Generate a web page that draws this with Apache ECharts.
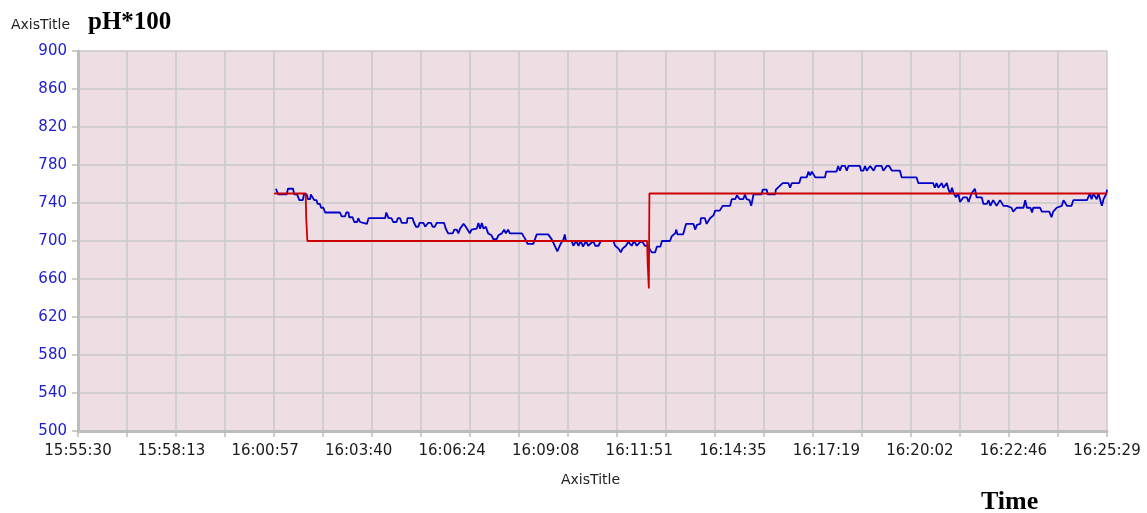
<!DOCTYPE html>
<html>
<head>
<meta charset="utf-8">
<script src="https://cdn.jsdelivr.net/npm/echarts@6/dist/echarts.min.js"></script>
<style>
html,body{margin:0;padding:0;background:#fff;}
#chart{width:1147px;height:513px;}
</style>
</head>
<body>
<div id="chart"></div>
<script>
// Time axis: seconds after 15:55:30, full span 1799 s (to 16:25:29)
var spanSec = 1799;
var timeLabels = ['15:55:30','15:58:13','16:00:57','16:03:40','16:06:24','16:09:08','16:11:51','16:14:35','16:17:19','16:20:02','16:22:46','16:25:29'];
var yTicks = [500,540,580,620,660,700,740,780,820,860,900];

// Set-point (red)
var redTimeSec = [343, 398, 399, 401, 995, 996, 998, 999, 1799];
var redPH      = [750, 750, 724, 700, 700, 676, 650, 750, 750];

// Measured pH*100 (blue)
var blueTimeSec = [346,350,365,367,376,378,383,387,393,395,400,402,406,407,410,413,417,419,423,425,429,432,458,461,467,469,473,474,480,483,488,490,493,496,505,508,537,539,543,548,551,557,559,563,566,575,576,585,587,591,595,597,604,607,610,612,617,620,624,627,640,643,647,655,658,662,665,668,
674,678,682,685,688,691,697,700,703,706,709,713,717,723,726,732,735,741,745,748,752,755,776,782,786,796,799,802,822,828,832,838,843,849,851,853,863,866,871,875,879,883,888,892,901,904,910,914,936,939,945,949,952,958,962,968,972,977,983,987,991,995,999,1003,1009,1012,1018,1021,
1035,1038,1041,1044,1046,1048,1058,1063,1076,1079,1082,1088,1089,1096,1099,1105,1111,1114,1122,1127,1140,1143,1149,1152,1157,1163,1166,1169,1174,1177,1181,1195,1197,1204,1206,1219,1220,1232,1242,1245,1248,1261,1264,1274,1277,1280,1283,1286,1289,1306,1308,1326,1329,1332,1335,1341,1344,1347,1367,
1369,1373,1376,1379,1385,1391,1395,1405,1408,1414,1418,1423,1437,1440,1466,1469,1495,1498,1501,1504,1510,1513,1519,1522,1525,1528,1531,1535,1539,1542,1548,1554,1557,1562,1568,1571,1580,1583,1589,1592,1595,1600,1606,1612,1618,1624,1627,1632,1635,1641,1653,1656,1659,1665,1668,1670,1682,1685,1698,1702,1705,1711,1720,1723,1729,1737,1740,1764,1769,1772,1775,1781,1784,1790,1793,1798,1799];
var bluePH = [755,749,749,755,755,749,749,743,743,749,749,744,744,749,749,743,743,739,739,735,735,730,730,726,726,730,730,725,725,720,720,724,720,718,718,724,724,730,724,724,720,720,724,724,719,719,724,724,720,715,715,719,719,715,715,719,719,715,715,719,719,713,708,708,712,712,708,713,
718,715,711,708,712,710,713,719,713,719,713,715,708,706,702,702,706,708,712,708,712,708,708,702,697,697,702,707,707,702,697,689,696,702,707,700,700,695,700,695,700,694,700,695,700,695,695,700,700,695,692,688,692,695,699,695,700,695,699,699,695,695,692,688,688,694,694,700,
700,705,704,708,712,707,707,718,718,712,717,718,724,724,718,724,727,732,732,737,737,744,744,748,744,744,749,744,743,737,749,749,754,754,749,749,754,761,761,756,761,761,767,767,773,769,773,773,767,767,773,773,779,774,779,779,774,779,779,
774,774,779,774,779,774,779,779,774,779,779,774,774,767,767,761,761,756,761,756,761,756,761,754,750,756,750,746,750,741,746,746,741,750,755,746,746,739,739,743,737,743,737,743,737,737,735,735,731,735,735,743,735,735,730,735,735,731,731,725,731,735,737,743,737,737,743,743,750,744,750,744,750,737,744,750,754];

var U = 231 / spanSec; // axis units: 231 = lcm(11 labels, 21 grid cells)
function pairs(ts, vs){ var out=[]; for (var i=0;i<ts.length;i++) out.push([ts[i]*U, vs[i]]); return out; }

var chart = echarts.init(document.getElementById('chart'), null, {renderer:'canvas'});
var gridColor = '#C9C9C9';
var option = {
  animation: false,
  backgroundColor: '#ffffff',
  grid: {left: 78, right: 40, top: 51, bottom: 82, show: true, backgroundColor: '#EEDEE4', borderWidth: 0},
  graphic: [
    {type:'text', left: 11, top: 18, style:{text:'AxisTitle', font:'14px "DejaVu Sans"', fill:'#222'}},
    {type:'text', left: 88, top: 10, style:{text:'pH*100', font:'bold 25px "Liberation Serif"', fill:'#000'}},
    {type:'text', left: 561, top: 473, style:{text:'AxisTitle', font:'14px "DejaVu Sans"', fill:'#222'}},
    {type:'text', left: 981, top: 489, style:{text:'Time', font:'bold 26px "Liberation Serif"', fill:'#000'}}
  ],
  xAxis: [
    {
      type:'value', min:0, max:231, interval:11, position:'bottom',
      axisLine:{show:true, onZero:false, lineStyle:{color:'#BDBDBD', width:3}},
      axisTick:{show:true, length:6, lineStyle:{color:'#BDBDBD', width:1.5}},
      axisLabel:{show:false},
      splitLine:{show:true, lineStyle:{color:gridColor, width:1.5}}
    },
    {
      type:'value', min:0, max:231, interval:21, position:'bottom',
      axisLine:{show:false}, axisTick:{show:false}, splitLine:{show:false},
      axisLabel:{show:true, margin:13, color:'#1a1a1a', fontSize:15, fontFamily:'DejaVu Sans',
        showMinLabel:true, showMaxLabel:true,
        formatter:function(v){ var i=Math.round(v/21); return timeLabels[i]||''; }}
    }
  ],
  yAxis: {
    type:'value', min:yTicks[0], max:yTicks[yTicks.length-1], interval:40,
    axisLine:{show:true, lineStyle:{color:'#BDBDBD', width:3}},
    axisTick:{show:true, length:6, lineStyle:{color:'#BDBDBD', width:1.5}},
    axisLabel:{color:'#2020D0', fontSize:15, fontFamily:'DejaVu Sans', margin:11},
    splitLine:{show:true, lineStyle:{color:gridColor, width:1.5}}
  },
  series: [
    {type:'line', xAxisIndex:0, data:pairs(blueTimeSec, bluePH), showSymbol:false, symbol:'none',
     lineStyle:{color:'#0000C8', width:1.8}, z:3},
    {type:'line', xAxisIndex:0, data:pairs(redTimeSec, redPH), showSymbol:false, symbol:'none',
     lineStyle:{color:'#CC0000', width:1.8}, z:4}
  ]
};
chart.setOption(option);
</script>
</body>
</html>
